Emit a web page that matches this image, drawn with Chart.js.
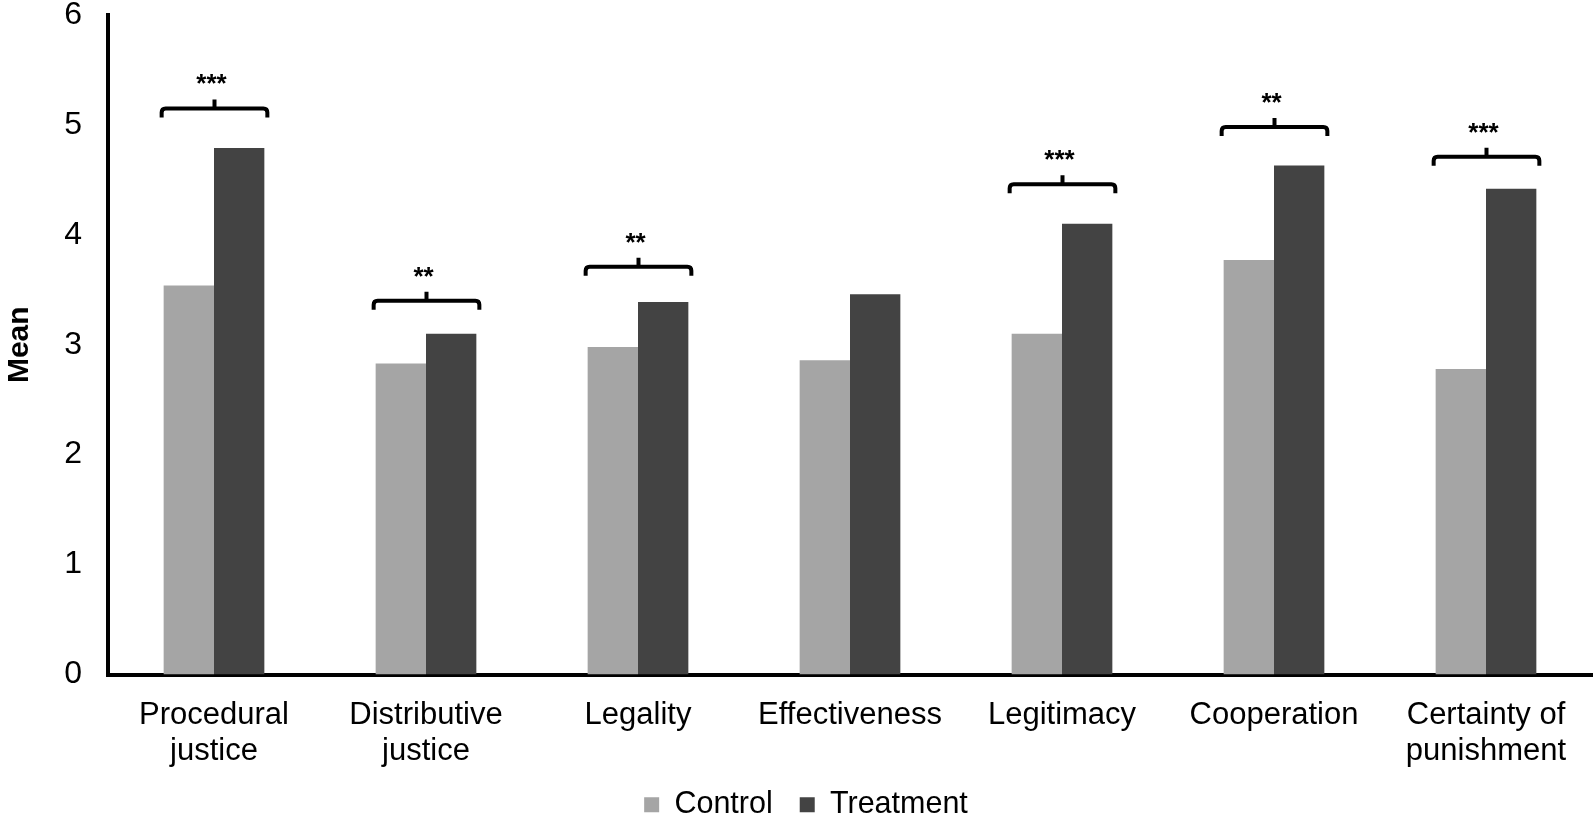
<!DOCTYPE html>
<html>
<head>
<meta charset="utf-8">
<script src="https://cdn.jsdelivr.net/npm/chart.js@4/dist/chart.umd.min.js"></script>
<style>
  html, body { margin: 0; padding: 0; background: #fff; }
  #wrap { width: 1594px; height: 819px; }
</style>
</head>
<body>
<div id="wrap"><canvas id="chart"></canvas></div>
<script>
const categories = [
  ['Procedural', 'justice'],
  ['Distributive', 'justice'],
  'Legality',
  'Effectiveness',
  'Legitimacy',
  'Cooperation',
  ['Certainty of', 'punishment']
];
const controlMeans = [3.54, 2.83, 2.98, 2.86, 3.10, 3.77, 2.78];
const treatmentMeans = [4.79, 3.10, 3.39, 3.46, 4.10, 4.63, 4.42];
// significance markers and the height (in mean units) of each bracket
const stars = ['***', '**', '**', '', '***', '**', '***'];
const bracketLevels = [5.15, 3.40, 3.71, null, 4.46, 4.98, 4.71];
const yTicks = [0, 1, 2, 3, 4, 5, 6];

const FONT = "'Liberation Sans', Arial, sans-serif";

// Significance brackets drawn above each pair of bars
const bracketPlugin = {
  id: 'brackets',
  afterLayout(chart) {
    // let the two-line category labels run past the legend's top edge
    chart.scales.x.bottom = chart.height;
  },
  afterDatasetsDraw(chart) {
    const ctx = chart.ctx;
    const yScale = chart.scales.y;
    const m0 = chart.getDatasetMeta(0);
    const m1 = chart.getDatasetMeta(1);
    ctx.save();
    ctx.strokeStyle = '#000';
    ctx.lineWidth = 4;
    ctx.fillStyle = '#000';
    ctx.font = 'bold 26px ' + FONT;
    ctx.textAlign = 'center';
    ctx.textBaseline = 'alphabetic';
    stars.forEach((s, i) => {
      if (!s) return;
      const b0 = m0.data[i], b1 = m1.data[i];
      const x1 = b0.x - b0.width / 2 - 2;
      const x2 = b1.x + b1.width / 2 + 3;
      const cx = (x1 + x2) / 2;
      const yy = yScale.getPixelForValue(bracketLevels[i]);
      ctx.beginPath();
      ctx.moveTo(x1, yy + 9);
      ctx.lineTo(x1, yy + 4);
      ctx.quadraticCurveTo(x1, yy, x1 + 4, yy);
      ctx.lineTo(x2 - 4, yy);
      ctx.quadraticCurveTo(x2, yy, x2, yy + 4);
      ctx.lineTo(x2, yy + 9);
      ctx.moveTo(cx, yy);
      ctx.lineTo(cx, yy - 9);
      ctx.stroke();
      ctx.fillText(s, cx - 3, yy - 16);
    });
    ctx.restore();
  }
};

new Chart(document.getElementById('chart'), {
  type: 'bar',
  data: {
    labels: categories,
    datasets: [
      {
        label: 'Control',
        data: controlMeans,
        backgroundColor: '#a5a5a5',
        borderWidth: 0
      },
      {
        label: 'Treatment',
        data: treatmentMeans,
        backgroundColor: '#434343',
        borderWidth: 0
      }
    ]
  },
  options: {
    responsive: true,
    maintainAspectRatio: false,
    animation: false,
    categoryPercentage: 0.475,
    barPercentage: 1.0,
    layout: { padding: { top: 0, right: 2, bottom: -11, left: 20 } },
    plugins: {
      tooltip: { enabled: false },
      legend: {
        position: 'bottom',
        labels: {
          boxWidth: 15,
          boxHeight: 15,
          padding: 27,
          color: '#000',
          font: { family: FONT, size: 30.5 }
        }
      }
    },
    scales: {
      x: {
        afterFit: (s) => { s.height = 88; },
        grid: { display: false, drawTicks: false },
        border: { display: true, color: '#000', width: 4 },
        ticks: {
          color: '#000',
          padding: 23,
          maxRotation: 0,
          autoSkip: false,
          font: { family: FONT, size: 31, lineHeight: 1.16 }
        }
      },
      y: {
        min: 0,
        max: 6,
        afterFit: (s) => {
          s.width = 88;
          s.paddingTop = 15;
          s.paddingBottom = 0;
        },
        afterBuildTicks: (s) => { s.ticks = yTicks.map(v => ({ value: v })); },
        grid: { display: false, drawTicks: false },
        border: { display: true, color: '#000', width: 4 },
        ticks: {
          color: '#000',
          padding: 26,
          font: { family: FONT, size: 32, lineHeight: 1 }
        },
        title: {
          display: true,
          text: 'Mean',
          color: '#000',
          padding: { top: -18, bottom: 0 },
          font: { family: FONT, size: 30, weight: 'bold' }
        }
      }
    }
  },
  plugins: [bracketPlugin]
});
</script>
</body>
</html>
